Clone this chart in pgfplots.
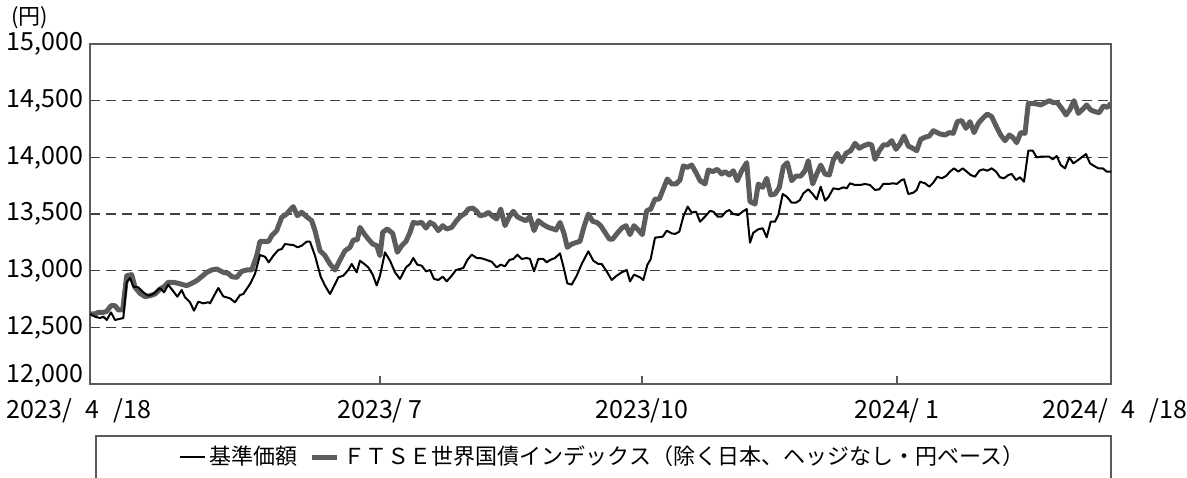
\documentclass[border=0pt]{standalone}
\usepackage{pgfplots}
\pgfplotsset{compat=1.18}
\usepackage{pgfplotstable}
\usepackage{fontspec}
\setmainfont{Noto Sans CJK JP}
\definecolor{idx}{RGB}{92,92,92}
\definecolor{boxc}{RGB}{90,90,90}

\pgfplotstableread{
x y
90 12618
95 12594
100 12582
103.3 12594
106.7 12565
111 12632
115 12565
123.3 12582
126.7 12897
130 12935
133.3 12859
138.3 12853
143.3 12809
148.3 12779
153.3 12794
160 12847
164 12809
168.3 12876
173.3 12818
177.3 12771
181.7 12829
185 12765
190 12721
194 12647
198.3 12726
203.3 12712
208.3 12721
210 12712
215 12794
218.3 12847
223.3 12773
230 12756
235 12721
240 12785
243.3 12794
250 12882
255 12971
260 13138
265 13123
268.7 13073
273.3 13132
278.3 13182
281.7 13191
285 13235
290 13229
293.3 13226
297.7 13206
301.7 13221
306.7 13256
310 13256
315 13132
320.7 12947
325 12868
330 12794
334.3 12868
338.3 12941
343.3 12956
348.3 13006
351.7 13059
356.7 12985
360 13088
364.3 13059
368.3 13029
372.7 12965
376.7 12870
380 12956
385 13162
390 13088
395 12985
400 12927
406 13029
410 13059
413.3 13112
417.3 13053
421.7 13044
426 12994
430 13006
434 12927
438.3 12918
442.7 12947
446.7 12906
451.7 12956
456 13006
460 13015
463.3 13024
467.3 13094
471.7 13141
476.7 13112
481.7 13109
486.7 13094
491.7 13079
496.7 13029
500.7 13053
505 13038
509.3 13094
513.3 13103
517.3 13141
521.7 13103
526.7 13112
530 13103
534 12994
538.3 13103
543.3 13103
546.7 13074
550 13094
555 13112
560 13153
564 13015
567.3 12888
571.7 12877
576.7 12956
581.7 13059
588.3 13171
593.3 13088
598.3 13059
601.7 13059
606.7 12994
611.7 12918
616.7 12956
621.7 12985
626.7 13006
630 12906
634 12965
640 12941
643.3 12918
647.3 13050
650.7 13103
655 13291
662.7 13300
666.7 13353
671.7 13329
675 13324
679.3 13344
683.3 13477
687.7 13565
691.7 13512
696 13521
700 13432
705 13477
710 13527
713.3 13521
717.7 13477
721.7 13477
726 13521
729.3 13535
733.3 13500
738.3 13491
742.7 13521
746.7 13544
750 13247
753.3 13335
758.3 13365
762.7 13374
766.7 13294
770.7 13432
775 13432
778.3 13491
782.7 13676
786.7 13653
791.7 13600
796 13600
800 13624
803.3 13682
808.3 13718
812.7 13676
816.7 13629
820.7 13741
825 13618
828.3 13647
833.3 13727
838.3 13718
843.3 13735
846.7 13727
850 13771
855 13756
860 13756
865 13765
870 13756
875 13712
879.3 13718
883.3 13765
888.3 13765
893.3 13771
896.7 13765
901.7 13800
904 13806
908.3 13676
913.3 13688
916.7 13712
920 13785
925 13771
929.3 13741
933.3 13777
937.3 13829
941.7 13815
946 13835
950 13874
954 13903
958.3 13874
962.7 13903
966.7 13874
970.7 13844
975 13829
979.3 13882
983.3 13894
987.3 13882
991.7 13903
996 13874
1000 13824
1004 13815
1008.3 13844
1011.7 13853
1016 13800
1020 13824
1024 13785
1028.3 14059
1032.7 14059
1036.7 14000
1040.7 14006
1045 14006
1049.3 14006
1052.7 13982
1056.7 14012
1060.7 13932
1065 13903
1069.3 14000
1073.3 13947
1077.3 13971
1081.7 14000
1086 14029
1090 13947
1094 13924
1098.3 13903
1102.7 13903
1106.7 13874
1111 13874
}\fund

\pgfplotstableread{
x y
90 12618
95 12618
98.3 12632
103.3 12632
106.7 12641
111 12691
115 12691
118.3 12653
122.7 12653
126.7 12956
131.7 12965
135 12853
140 12800
145 12771
150 12779
155 12794
160 12838
164 12859
168.3 12897
173.3 12897
178.3 12888
183.3 12876
186.7 12868
191.7 12888
196.7 12912
201.7 12947
206.7 12985
211.7 13006
216.7 13015
220 13000
223.3 12985
228.3 12976
231.7 12947
236.7 12941
241.7 12994
246.7 13006
251.7 13006
256.7 13132
260 13259
265 13259
268.7 13259
271.7 13309
276.7 13353
281.7 13471
286.7 13500
290 13535
293.3 13565
297.3 13485
301.7 13515
306.7 13476
311.7 13441
315 13353
320 13176
325 13132
330 13059
335 13006
340 13094
345 13176
350 13206
353.3 13271
357.3 13271
360 13382
364.3 13324
368.3 13279
372.7 13235
376.7 13221
380 13132
382.7 13338
387.3 13368
392.7 13329
397.3 13162
401.7 13221
406 13259
410 13338
413.3 13426
417.3 13418
421.7 13426
426 13376
430 13426
434 13406
438.3 13353
442.7 13397
446.7 13368
451.7 13382
456 13435
460 13476
465 13506
468.3 13544
472.7 13553
476.7 13524
480 13485
485 13494
488.3 13515
493.3 13476
496.7 13456
500.7 13544
505 13397
509.3 13476
513.3 13524
517.3 13476
521.7 13456
526 13441
530 13476
534 13353
538.3 13441
543.3 13406
548.3 13382
553.3 13368
556 13359
560 13426
564 13329
567.3 13206
571.7 13235
576.7 13250
580 13259
584 13388
588.3 13500
592.7 13435
596.7 13426
600.7 13397
605 13338
609.3 13279
612.7 13279
616.7 13324
621.7 13376
626 13397
630 13318
634 13397
638.3 13359
642.3 13318
646.7 13529
650.7 13544
655 13632
659.3 13632
663.3 13721
667.3 13809
671.7 13765
676 13765
680 13800
683.3 13924
687.3 13912
691.7 13932
696 13865
700 13794
705 13765
708.3 13888
712.7 13874
717.3 13894
721.7 13853
725 13874
729.3 13844
733.3 13882
737.3 13794
741.7 13882
746.7 13953
750 13609
755 13588
758.3 13765
762.7 13735
766.7 13815
770.7 13668
775 13676
779.3 13735
783.3 13918
787.3 13953
791.7 13794
796 13835
800.7 13835
805 13882
808.3 13971
812.7 13765
816.7 13853
820.7 13932
825 13853
829.3 13844
833.3 13976
837.3 14035
841.7 13962
846 14035
850.7 14059
855 14124
859.3 14080
863.3 14100
868.3 14118
871.7 14109
875 13982
879.3 14059
883.3 14109
887.3 14109
891.7 14147
896 14071
900 14118
904 14188
908.3 14100
912.7 14080
916.7 14059
920.7 14159
925 14177
929.3 14188
933.3 14235
940 14206
945 14197
949.3 14218
953.3 14212
957.3 14315
961.7 14324
966 14256
970 14315
974 14218
978.3 14300
982.7 14344
987.3 14382
991.7 14359
996.7 14265
1000.7 14197
1005 14147
1009.3 14197
1012.7 14177
1016.7 14129
1020.7 14218
1025 14212
1028.3 14476
1032.7 14476
1036.7 14471
1040.7 14462
1045 14482
1049.3 14500
1053.3 14482
1057.3 14482
1061.7 14432
1066 14374
1070 14424
1074 14500
1078.3 14388
1082.7 14424
1086.7 14462
1090.7 14418
1095 14403
1099.3 14394
1103.3 14453
1107.3 14441
1111 14476
}\idxdata

\begin{document}
\begin{tikzpicture}
\begin{axis}[
  at={(45pt,46.5pt)}, anchor=south west,
  width=510.5pt, height=170pt, scale only axis,
  xmin=90, xmax=1111, ymin=12000, ymax=15000,
  axis line style={draw=boxc, line width=0.65pt},
  xtick={90,380,642,897,1111},
  xticklabels={{\kern-11pt 2023/\hphantom{0}4\hphantom{0}/18},{2023/\kern3pt 7},{2023/10},{2024/\kern3pt 1},{2024/\hphantom{0}4\hphantom{0}/18\kern-4pt}},
  xtick pos=bottom, tick align=inside,
  x tick style={draw=boxc, line width=0.65pt},
  major tick length=4pt,
  xticklabel style={yshift=-4pt},
  ytick={12500,13000,13500,14000,14500,15000},
  extra y ticks={12000},
  extra y tick style={yticklabel style={yshift=4pt}, grid=none},
  ytick style={draw=none},
  ymajorgrids,
  grid style={dash pattern=on 5pt off 3pt, draw=black!75, line width=0.6pt},
  tick label style={font=\fontsize{12.5}{14}\selectfont},
  /pgf/number format/assume math mode=true,
  /pgf/number format/1000 sep={,},
  scaled y ticks=false,
  legend columns=2, reverse legend,
  legend style={draw=none, fill=none, at={(0.503,-0.2147)}, anchor=center,
    font=\fontsize{11}{13}\selectfont,
    /tikz/every even column/.append style={column sep=4pt}},
  legend image code/.code={\draw[#1] (0pt,0pt) -- (12.5pt,0pt);},
]
\addplot[idx, line width=2.5pt, line join=round] table[x=x,y=y] {\idxdata};
\addlegendentry{ＦＴＳＥ世界国債インデックス（除く日本、ヘッジなし・円ベース）}
\addplot[black, line width=1pt, line join=round] table[x=x,y=y] {\fund};
\addlegendentry{基準価額}
\end{axis}
\node[font=\fontsize{11}{13}\selectfont] at (15pt,229.5pt) {(円)};
\draw[boxc, line width=0.6pt] (48pt,-20pt) -- (48pt,20.5pt) -- (555.5pt,20.5pt) -- (555.5pt,-20pt);
\pgfresetboundingbox
\path[use as bounding box] (0,0) rectangle (593.5pt,238.5pt);
\end{tikzpicture}
\end{document}
